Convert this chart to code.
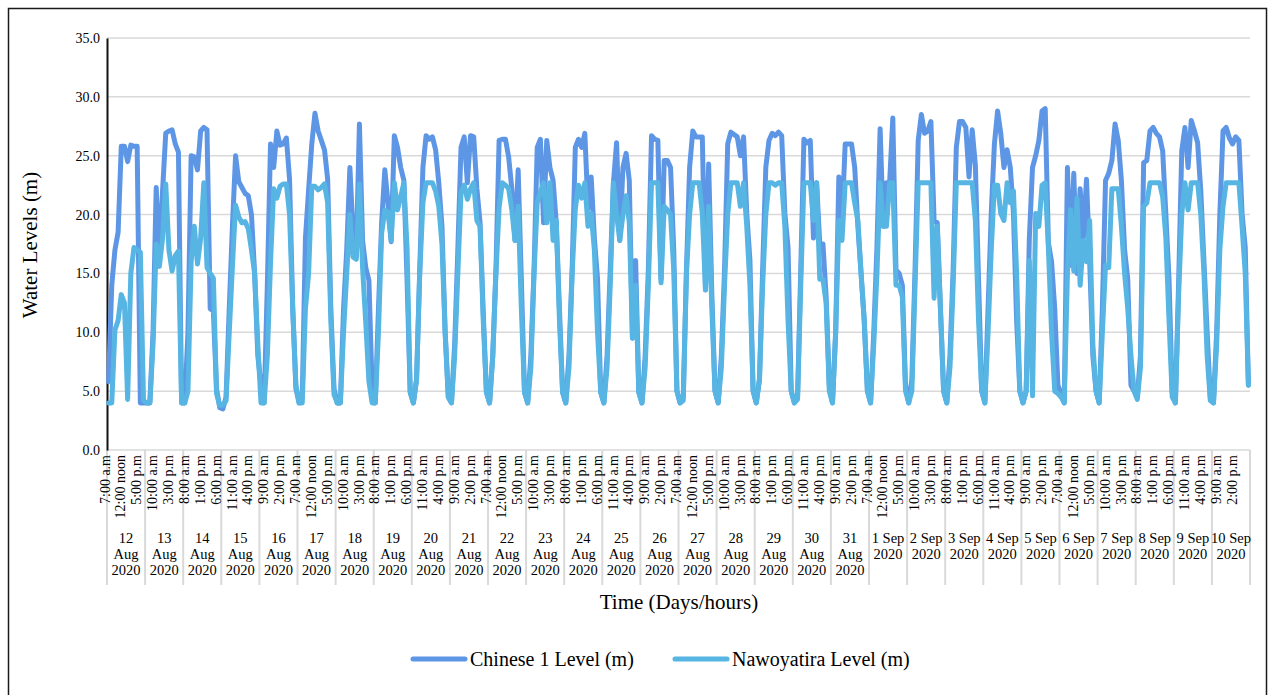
<!DOCTYPE html>
<html>
<head>
<meta charset="utf-8">
<script src="https://cdn.jsdelivr.net/npm/d3@7"></script>
<style>
  body { margin: 0; background: #fff; }
  svg text { font-family: 'Liberation Serif', 'Times New Roman', serif; fill: #000; }
</style>
</head>
<body>
<div id="chart"></div>
<script>
// one column per day, 12 hourly readings (7 a.m - 6 p.m) per day
const days = [
  '12 Aug 2020', '13 Aug 2020', '14 Aug 2020', '15 Aug 2020', '16 Aug 2020',
  '17 Aug 2020', '18 Aug 2020', '19 Aug 2020', '20 Aug 2020', '21 Aug 2020',
  '22 Aug 2020', '23 Aug 2020', '24 Aug 2020', '25 Aug 2020', '26 Aug 2020',
  '27 Aug 2020', '28 Aug 2020', '29 Aug 2020', '30 Aug 2020', '31 Aug 2020',
  '1 Sep 2020', '2 Sep 2020', '3 Sep 2020', '4 Sep 2020', '5 Sep 2020',
  '6 Sep 2020', '7 Sep 2020', '8 Sep 2020', '9 Sep 2020', '10 Sep 2020'
]

const hourLabels = [
  '7:00 a.m', '8:00 a.m', '9:00 a.m', '10:00 a.m', '11:00 a.m', '12:00 noon',
  '1:00 p.m', '2:00 p.m', '3:00 p.m', '4:00 p.m', '5:00 p.m', '6:00 p.m'
]

const chineseLevel = [
  5.8, 14, 17, 18.5, 25.8, 25.8, 24.5, 25.9, 25.8, 25.8, 4.0, 4.0,
  4.0, 4.0, 10, 22.3, 16, 22, 26.9, 27.1, 27.2, 26, 25.3, 4.0,
  4.0, 10, 25, 24.9, 23.8, 27.1, 27.4, 27.2, 12, 11.8, 5.2, 3.6,
  3.5, 4.5, 12, 19, 25, 22.8, 22.3, 21.8, 21.6, 20, 15, 8,
  5.5, 4.0, 14, 26, 24, 27.1, 25.9, 26, 26.5, 23, 12, 5.2,
  4.0, 4.5, 18, 22.1, 26, 28.6, 27.1, 26.3, 25.5, 23, 12, 5.2,
  4.0, 4.0, 12, 17, 24, 18.4, 16.4, 27.7, 17.8, 15.5, 14.4, 5.2,
  4.0, 12, 19.3, 23.8, 21, 17.7, 26.7, 25.7, 24, 22.9, 14.5, 4.9,
  4.0, 6, 15.3, 24, 26.7, 26.4, 26.6, 25.5, 22.7, 19, 10, 4.5,
  4.0, 9, 17, 25.7, 26.6, 22.7, 26.7, 26.6, 22.2, 19.3, 11.7, 4.9,
  4.0, 8, 15.3, 26.3, 26.4, 26.4, 24.9, 22.2, 17.8, 23.8, 14.5, 4.9,
  4.0, 8, 15.3, 25.7, 26.4, 19.3, 26.3, 24, 22.9, 19.3, 12, 4.9,
  4.0, 8, 15.3, 25.7, 26.4, 25.7, 26.9, 20.5, 23.2, 18, 14.5, 4.9,
  4.0, 8, 15.3, 22.7, 26.1, 17.8, 24, 25.2, 22.9, 9.5, 16.1, 4.9,
  4.0, 8, 15.3, 26.7, 26.4, 26.3, 14.5, 24.6, 24.6, 24, 17, 5,
  4.0, 4.5, 15.3, 24, 27.1, 26.6, 26.6, 26.6, 13.6, 24.3, 13.3, 5,
  4.0, 8, 15.3, 26, 27, 26.8, 26.6, 25, 26.6, 20.1, 16.1, 5,
  4.0, 6, 15.3, 24, 26.3, 26.9, 26.7, 27, 26.7, 20.1, 17.2, 5,
  4.0, 4.5, 15.3, 26.4, 26.1, 26.3, 18, 22.7, 17.5, 17.5, 13, 5.5,
  4.0, 10, 23.2, 19.5, 26, 26, 26, 24, 19, 15, 11, 5,
  4.0, 10, 17.2, 27.3, 19, 22.7, 22.7, 28.2, 15.3, 15, 14, 5.5,
  4.0, 6, 15.3, 26.3, 28.5, 26.9, 27.1, 27.9, 19.5, 19.3, 12, 5,
  4.0, 8, 15.3, 25.7, 27.9, 27.9, 27.4, 23.2, 27.2, 24.2, 14.5, 5,
  4.0, 12, 20.1, 26, 28.8, 26.9, 24, 25.5, 24, 20.1, 11, 5,
  4.0, 5, 18, 24, 25, 26.3, 28.8, 29, 17.6, 16, 12, 5.5,
  4.8, 4.0, 24, 15.7, 23.5, 15, 22.2, 18, 23, 16.1, 8, 5,
  4.0, 12, 22.9, 23.5, 24.6, 27.7, 26.3, 22.9, 17, 14.5, 5.5, 5,
  4.5, 8, 24.4, 24.6, 27.1, 27.4, 26.9, 26.6, 25.4, 20, 14.5, 4.9,
  4.0, 14, 25.4, 27.4, 24, 28, 27.1, 26.1, 22, 16, 10, 4.5,
  4.0, 10, 20, 27.1, 27.4, 26.5, 26, 26.6, 26.3, 20.1, 17.2, 5.5
]

const nawoyatiraLevel = [
  4.0, 4.0, 10.2, 11, 13.2, 12.5, 4.3, 15, 17.2, 17, 16.8, 4.2,
  4.0, 4.0, 9, 17.5, 15.6, 18, 22.6, 17, 15.2, 16.5, 16.9, 4.0,
  4.0, 5, 16, 19, 15.8, 18, 22.7, 15.5, 15, 14.6, 4.8, 3.8,
  3.8, 4.2, 10, 15.6, 20.8, 19.8, 19.3, 19.4, 18.8, 17, 15, 9,
  4.0, 4.0, 8, 15.9, 22.2, 21.4, 22.4, 22.6, 22.6, 20, 12, 5.5,
  4.0, 4.0, 12, 15, 22.4, 22.4, 22.1, 22.3, 22.6, 21, 11, 4.7,
  4.0, 4.0, 10, 15, 20, 16.4, 16.2, 22.6, 15.5, 10.8, 5.8, 4.0,
  4.0, 10, 18.4, 20.4, 20.2, 17.8, 22.7, 20.4, 21.5, 22.7, 17.2, 4.9,
  4.0, 6, 15, 21, 22.7, 22.7, 22.7, 22, 20.7, 17.5, 10, 4.5,
  4.0, 8, 15, 21.9, 22.5, 21.3, 22.2, 22.7, 19.5, 19, 11, 4.9,
  4.0, 8, 15, 20.6, 22.7, 22.5, 22.2, 20.4, 17.8, 20.7, 12, 4.9,
  4.0, 7, 15, 21, 21.9, 22.7, 19.3, 22.7, 17.8, 19.5, 11, 4.9,
  4.0, 7, 15, 20.5, 22.5, 21.4, 22.7, 19, 20.1, 17, 10, 4.9,
  4.0, 7, 14, 22.7, 20, 17.8, 20, 21.6, 19.3, 9.5, 14, 4.9,
  4.0, 7, 14, 22.7, 22.7, 22.7, 14.2, 20.7, 20.4, 20, 15.3, 5,
  4.0, 4.2, 15, 20, 22.7, 22.7, 22.7, 20.1, 13.6, 20.7, 12, 5,
  4.0, 7, 14, 20, 22.7, 22.7, 22.7, 20.7, 22.7, 19, 14, 5,
  4.0, 6, 14, 20, 22.7, 22.7, 22.5, 22.7, 22.7, 19, 11, 5,
  4.0, 4.3, 14, 22.7, 22.7, 22.7, 19.5, 22.7, 14.5, 14.5, 12.5, 5,
  4.0, 10, 19.5, 17.8, 22.7, 22.7, 22.7, 21, 19.5, 15, 11, 5,
  4.0, 9, 15, 22.7, 19, 19, 22.7, 22.7, 14, 14, 13, 5,
  4.0, 5, 14, 22.7, 22.7, 22.7, 22.7, 22.7, 12.9, 19, 12, 5,
  4.0, 7, 14, 22.7, 22.7, 22.7, 22.7, 22.7, 22.7, 19.5, 11, 5,
  4.0, 10, 17, 22.5, 22.5, 20.1, 19.5, 22.7, 21, 22, 15, 5,
  4.0, 5, 16.1, 4.6, 20.1, 19, 22.5, 22.7, 17.2, 10, 5, 4.8,
  4.5, 4.0, 15, 20.4, 15.2, 21.4, 14, 17.8, 16, 19.5, 9, 5,
  4.0, 10, 15.7, 15.5, 22.2, 22.2, 22.2, 19, 15, 12, 8, 5,
  4.3, 7, 20.7, 21, 22.7, 22.7, 22.7, 22.7, 21.5, 18, 11, 4.5,
  4.0, 13, 20, 22.7, 20.4, 22.7, 22.7, 22.7, 20, 15, 8, 4.2,
  4.0, 9, 17, 20.7, 22.7, 22.7, 22.7, 22.7, 22.7, 19, 15, 5.5
]

const seriesNames = ['Chinese 1 Level (m)', 'Nawoyatira Level (m)']
const seriesColors = ['#5e96e6', '#56b5e2']
const yTicks = [0, 5, 10, 15, 20, 25, 30, 35]

const margin = { top: 38, left: 107, right: 25, bottom: 245 }
const svgWidth = 1275
const svgHeight = 695
const width = svgWidth - margin.left - margin.right
const height = svgHeight - margin.top - margin.bottom

const root = d3
  .select('#chart')
  .append('svg')
  .attr('width', svgWidth)
  .attr('height', svgHeight)

// outer frame of the chart
root
  .append('rect')
  .attr('x', 8.5)
  .attr('y', 8.5)
  .attr('width', 1258)
  .attr('height', 720)
  .attr('fill', 'white')
  .attr('stroke', '#1a1a1a')
  .attr('stroke-width', 1.5)

const svg = root
  .append('g')
  .attr('transform', 'translate(' + margin.left + ',' + margin.top + ')')

const categories = days.flatMap(d => hourLabels.map(h => d + '|' + h))

const xPositionScale = d3
  .scaleBand()
  .domain(categories)
  .range([0, width])
const dayScale = d3
  .scaleBand()
  .domain(days)
  .range([0, width])
const yPositionScale = d3
  .scaleLinear()
  .domain([0, 35])
  .range([height, 0])

const xOf = i => xPositionScale(categories[i]) + xPositionScale.bandwidth() / 2

// gridlines
svg
  .selectAll('.grid')
  .data(yTicks)
  .enter()
  .append('line')
  .attr('class', 'grid')
  .attr('x1', 0)
  .attr('x2', width)
  .attr('y1', d => yPositionScale(d))
  .attr('y2', d => yPositionScale(d))
  .attr('stroke', '#d9d9d9')
  .attr('stroke-width', 1.5)

// day separators of the category axis
svg
  .selectAll('.day-sep')
  .data(days.concat(['end']))
  .enter()
  .append('line')
  .attr('class', 'day-sep')
  .attr('x1', (d, i) => (i < days.length ? dayScale(d) : width))
  .attr('x2', (d, i) => (i < days.length ? dayScale(d) : width))
  .attr('y1', height)
  .attr('y2', height + 135)
  .attr('stroke', '#d9d9d9')
  .attr('stroke-width', 2)

// hour labels, every fifth category
const hourTicks = categories.filter((c, i) => i % 5 === 0)
svg
  .selectAll('.hour-label')
  .data(hourTicks)
  .enter()
  .append('text')
  .attr('class', 'hour-label')
  .attr('transform', d => {
    const i = categories.indexOf(d)
    return 'translate(' + (xOf(i) + 1) + ',' + (height + 5) + ') rotate(-90)'
  })
  .attr('text-anchor', 'end')
  .attr('font-size', 14)
  .text(d => d.split('|')[1])

// day labels
const dayText = svg
  .selectAll('.day-label')
  .data(days)
  .enter()
  .append('text')
  .attr('class', 'day-label')
  .attr('text-anchor', 'middle')
  .attr('font-size', 14.5)

dayText
  .selectAll('tspan')
  .data(d => {
    const parts = d.split(' ')
    if (parts[1] === 'Aug') return parts.map(p => ({ day: d, text: p }))
    return [
      { day: d, text: parts[0] + ' ' + parts[1] },
      { day: d, text: parts[2] }
    ]
  })
  .enter()
  .append('tspan')
  .attr('x', d => dayScale(d.day) + dayScale.bandwidth() / 2)
  .attr('y', (d, i) => height + 93 + i * 16)
  .text(d => d.text)

// y axis
const yAxis = d3
  .axisLeft(yPositionScale)
  .tickValues(yTicks)
  .tickFormat(d3.format('.1f'))
  .tickSize(0)
  .tickPadding(7)
svg
  .append('g')
  .attr('class', 'axis y-axis')
  .call(yAxis)
  .call(g => g.select('.domain').attr('stroke', '#111').attr('stroke-width', 2))
  .call(g =>
    g
      .selectAll('text')
      .attr('font-size', 14)
      .attr('font-family', "'Liberation Serif', serif")
      .attr('fill', '#222')
  )

// lines
const line = d3
  .line()
  .x((d, i) => xOf(i))
  .y(d => yPositionScale(d))

svg
  .selectAll('.path-line')
  .data([chineseLevel, nawoyatiraLevel])
  .enter()
  .append('path')
  .attr('class', 'path-line')
  .attr('d', d => line(d))
  .attr('fill', 'none')
  .attr('stroke', (d, i) => seriesColors[i])
  .attr('stroke-width', 5)
  .attr('stroke-linejoin', 'round')
  .attr('stroke-linecap', 'round')

// axis titles
root
  .append('text')
  .attr('x', 679)
  .attr('y', 609)
  .attr('text-anchor', 'middle')
  .attr('font-size', 21)
  .text('Time (Days/hours)')

root
  .append('text')
  .attr('transform', 'translate(37,245) rotate(-90)')
  .attr('text-anchor', 'middle')
  .attr('font-size', 21)
  .text('Water Levels (m)')

// legend
const legendX = [411, 673]
const legend = root
  .selectAll('.legend')
  .data(seriesNames)
  .enter()
  .append('g')
  .attr('class', 'legend')
  .attr('transform', (d, i) => 'translate(' + legendX[i] + ',659)')

legend
  .append('line')
  .attr('x1', 2)
  .attr('x2', 54)
  .attr('stroke', (d, i) => seriesColors[i])
  .attr('stroke-width', 5)
  .attr('stroke-linecap', 'round')

legend
  .append('text')
  .attr('x', 59)
  .attr('y', 7)
  .attr('font-size', 20)
  .text(d => d)
</script>
</body>
</html>
